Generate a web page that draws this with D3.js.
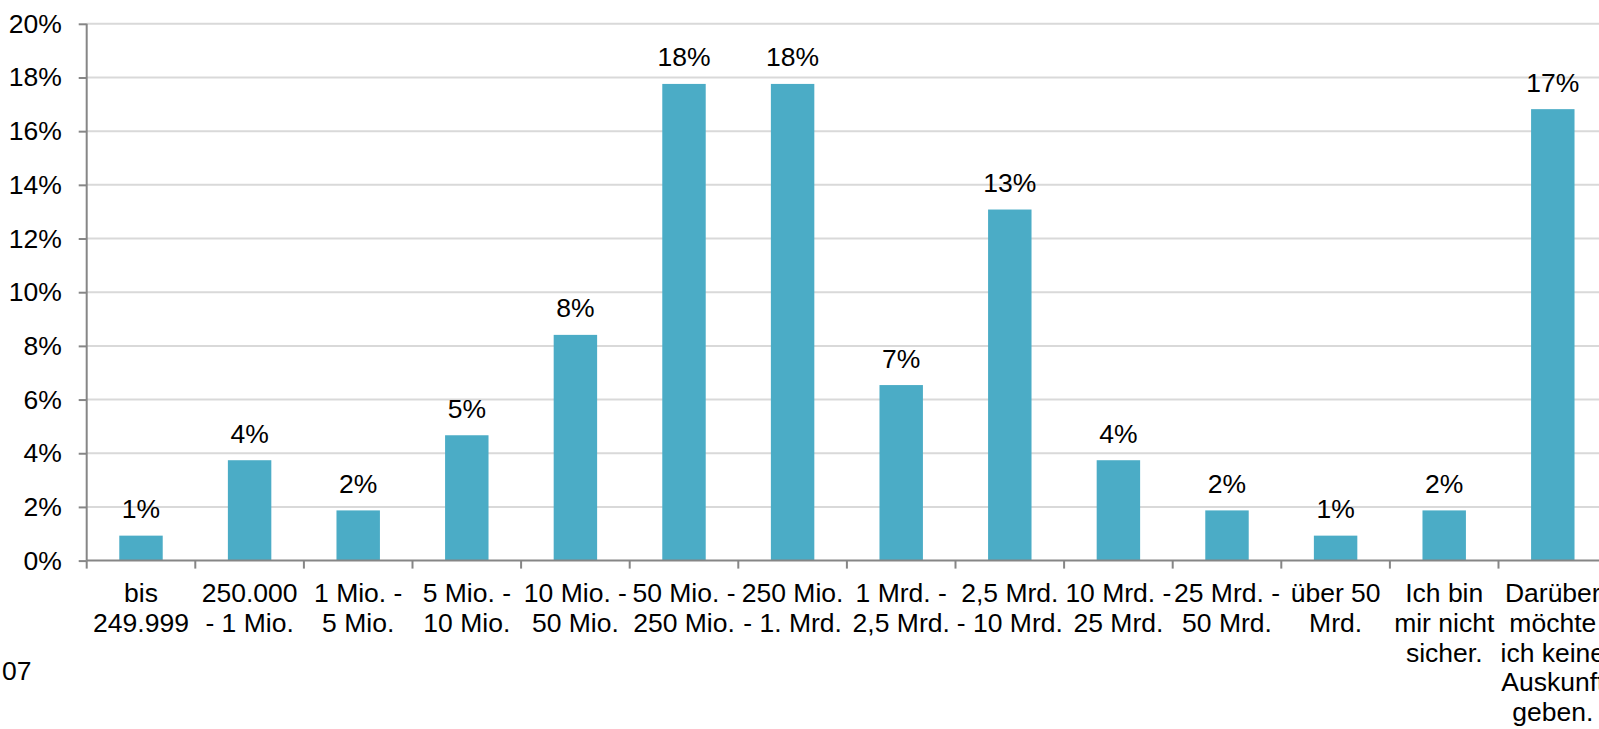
<!DOCTYPE html>
<html><head><meta charset="utf-8">
<script src="https://cdn.jsdelivr.net/npm/d3@7"></script>
<style>
html,body{margin:0;padding:0;background:#fff;overflow:hidden}
svg{display:block}
text{font-family:"Liberation Sans",Arial,sans-serif;fill:#000}
</style></head><body>
<svg id="c" width="1599" height="729"></svg>
<script>
const categories = [
  ["bis","249.999"],
  ["250.000","- 1 Mio."],
  ["1 Mio. -","5 Mio."],
  ["5 Mio. -","10 Mio."],
  ["10 Mio. -","50 Mio."],
  ["50 Mio. -","250 Mio."],
  ["250 Mio.","- 1. Mrd."],
  ["1 Mrd. -","2,5 Mrd."],
  ["2,5 Mrd.","- 10 Mrd."],
  ["10 Mrd. -","25 Mrd."],
  ["25 Mrd. -","50 Mrd."],
  ["über 50","Mrd."],
  ["Ich bin","mir nicht","sicher."],
  ["Darüber","möchte","ich keine","Auskunft","geben."]
];
const values = [0.93, 3.74, 1.87, 4.67, 8.41, 17.76, 17.76, 6.54, 13.08, 3.74, 1.87, 0.93, 1.87, 16.82];
const valueLabels = ["1%","4%","2%","5%","8%","18%","18%","7%","13%","4%","2%","1%","2%","17%"];
const yTicks = [0,2,4,6,8,10,12,14,16,18,20];
const yTickLabels = yTicks.map(d => d + "%");
const footnote = "07";

(function(){
const FS = 26.5;
const svg = d3.select("#c");
const mLeft = 86.7, mRight = 1607.1, mBottom = 560.6, mTop = 23.8;
const x = d3.scaleBand().domain(d3.range(categories.length)).range([mLeft, mRight]).paddingInner(0.6).paddingOuter(0.3);
const step = x.step();
const y = d3.scaleLinear().domain([0, 20]).range([mBottom, mTop]);

// gridlines
svg.append("g").selectAll("line").data(yTicks.filter(d => d > 0)).join("line")
  .attr("x1", mLeft).attr("x2", 1599)
  .attr("y1", d => y(d)).attr("y2", d => y(d))
  .attr("stroke", "#d9d9d9").attr("stroke-width", 2);

// bars
svg.append("g").selectAll("rect").data(values).join("rect")
  .attr("x", (d, i) => x(i)).attr("width", x.bandwidth())
  .attr("y", d => y(d)).attr("height", d => mBottom - y(d))
  .attr("fill", "#4bacc6");

// value labels
svg.append("g").selectAll("text").data(values).join("text")
  .attr("x", (d, i) => x(i) + x.bandwidth() / 2)
  .attr("y", d => y(d) - 17.5)
  .attr("text-anchor", "middle").attr("font-size", FS)
  .text((d, i) => valueLabels[i]);

// y axis
const yAxis = d3.axisLeft(y).tickValues(yTicks).tickFormat((d, i) => yTickLabels[i]).tickSize(8).tickPadding(17);
const gy = svg.append("g").attr("transform", `translate(${mLeft},0)`).call(yAxis);
gy.select(".domain").attr("stroke", "#868686").attr("stroke-width", 2).attr("d", `M0,${mTop}V${mBottom}`);
gy.selectAll(".tick line").attr("stroke", "#868686").attr("stroke-width", 2);
gy.selectAll(".tick text").attr("font-size", FS).attr("font-family", '"Liberation Sans",Arial,sans-serif').attr("fill", "#000");

// x axis line and ticks
svg.append("line").attr("x1", mLeft).attr("x2", 1599).attr("y1", mBottom).attr("y2", mBottom)
  .attr("stroke", "#868686").attr("stroke-width", 2);
svg.append("g").selectAll("line").data(d3.range(categories.length + 1)).join("line")
  .attr("x1", i => mLeft + i * step).attr("x2", i => mLeft + i * step)
  .attr("y1", mBottom).attr("y2", mBottom + 8)
  .attr("stroke", "#868686").attr("stroke-width", 2);

// category labels
const cl = svg.append("g").selectAll("text").data(categories).join("text")
  .attr("text-anchor", "middle").attr("font-size", FS)
  .attr("transform", (d, i) => `translate(${x(i) + x.bandwidth() / 2},${mBottom + 41.5})`);
cl.selectAll("tspan").data(d => d).join("tspan")
  .attr("x", 0).attr("y", (d, j) => j * 29.8).text(d => d);

// footnote
svg.append("text").attr("x", 2).attr("y", 680).attr("font-size", FS).text(footnote);
})();
</script>
</body></html>
